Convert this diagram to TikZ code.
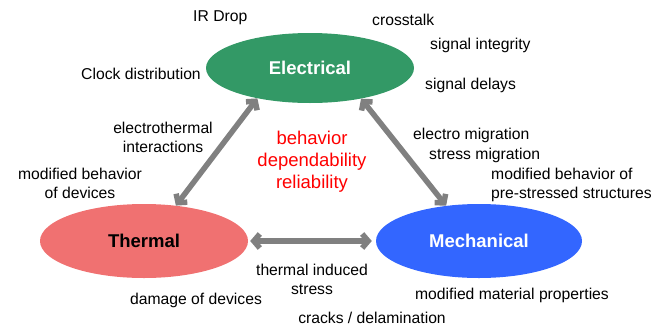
\documentclass[tikz,border=0pt]{standalone}
\usepackage{fontspec}
\setmainfont{Liberation Sans}
\usetikzlibrary{shapes.geometric,arrows.meta}

\definecolor{elecgreen}{RGB}{51,153,102}
\definecolor{thermred}{RGB}{240,113,113}
\definecolor{mechblue}{RGB}{51,102,255}

\tikzset{
  field/.style={ellipse, inner sep=0pt, minimum width=208pt, minimum height=70pt,
    font=\fontsize{18.5}{22}\selectfont\bfseries},
  lbl/.style={font=\fontsize{15.7}{19}\selectfont, inner sep=0pt, align=center},
  link/.style={draw=gray, line width=5.5pt,
    {Straight Barb[length=6pt,width=14pt]}-{Straight Barb[length=6pt,width=14pt]}}
}

\begin{document}
\begin{tikzpicture}[x=1pt, y=-1pt]
  \useasboundingbox (0,0) rectangle (671,327);

  % Domains
  \node[field, fill=elecgreen, text=white] (elec) at (310,68) {Electrical};
  \node[field, fill=thermred, text=black, minimum height=74pt] (therm) at (144,241) {Thermal};
  \node[field, fill=mechblue, text=white, minimum height=74pt, minimum width=206pt] (mech) at (479,241) {Mechanical};

  % Interactions
  \draw[link] (therm.48) -- (elec.210);
  \draw[link] (mech.133) -- (elec.329);
  \draw[link, shorten <=2pt, shorten >=4pt] (therm.east) -- (mech.west);

  % Center text
  \node[lbl, text=red, font=\fontsize{18.5}{22}\selectfont] (goal) at (312,162)
    {behavior\\dependability\\reliability};

  % Electrical effects
  \node[lbl, anchor=west] (irdrop) at (193,18) {IR Drop};
  \node[lbl, anchor=west] (xtalk) at (372,20) {crosstalk};
  \node[lbl, anchor=west] (sigint) at (430,45) {signal integrity};
  \node[lbl, anchor=west] (clock) at (81,74) {Clock distribution};
  \node[lbl, anchor=west] (delays) at (425,85) {signal delays};

  % Coupling effects
  \node[lbl] (elth) at (163,137) {electrothermal\\interactions};
  \node[lbl, anchor=west] (emig) at (413,135) {electro migration};
  \node[lbl, anchor=west] (smig) at (429,155) {stress migration};
  \node[lbl, anchor=west, align=left] (prestr) at (491,185) {modified behavior of\\pre-stressed structures};

  % Thermal and mechanical effects
  \node[lbl] (moddev) at (80,183) {modified behavior\\of devices};
  \node[lbl] (thstress) at (312,279) {thermal induced\\stress};
  \node[lbl] (damage) at (196,300) {damage of devices};
  \node[lbl] (modmat) at (512,295) {modified material properties};
  \node[lbl] (cracks) at (372,318) {cracks / delamination};
\end{tikzpicture}
\end{document}
